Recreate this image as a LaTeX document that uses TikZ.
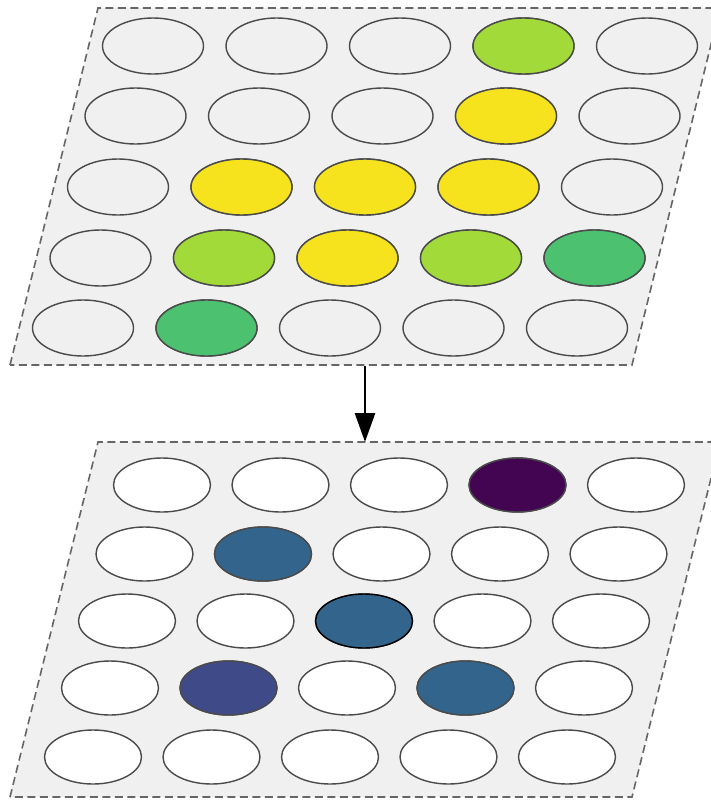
\documentclass[tikz,border=0pt]{standalone}
\usetikzlibrary{shapes.geometric,arrows.meta}
\definecolor{panelfill}{HTML}{F0F0F0}
\definecolor{panelline}{HTML}{666666}
\definecolor{cellline}{HTML}{4A4A4A}
\definecolor{cyel}{HTML}{F6E31E}
\definecolor{clgr}{HTML}{A2DA3A}
\definecolor{cgrn}{HTML}{4CC170}
\definecolor{cpur}{HTML}{430552}
\definecolor{cblu}{HTML}{33658C}
\definecolor{cind}{HTML}{3F4A88}
\tikzset{
  panel/.style={draw=panelline, fill=panelfill, dash pattern=on 8pt off 4.5pt, line width=1.6pt},
  topcell/.style={ellipse, draw=cellline, line width=1.4pt, fill=panelfill, minimum width=101pt, minimum height=56pt, inner sep=0pt},
  botcell/.style={ellipse, draw=cellline, line width=1.4pt, fill=white, minimum width=97pt, minimum height=54pt, inner sep=0pt},
  flow/.style={line width=2.8pt, -{Triangle[length=29pt,width=20pt]}}
}
\begin{document}
\begin{tikzpicture}[x=1pt,y=-1pt]
\useasboundingbox (0,0) rectangle (711,801);
\begin{scope}
\clip (0,0) rectangle (711,801);
% top panel
\coordinate (t1) at (98,8);
\coordinate (t2) at (720,8);
\coordinate (t3) at (632,365);
\coordinate (t4) at (10,365);
\draw[panel] (t4) -- (t1) -- (t2) -- (t3) -- cycle;
% bottom panel
\coordinate (b1) at (98,442);
\coordinate (b2) at (720,442);
\coordinate (b3) at (632,797);
\coordinate (b4) at (10,797);
\draw[panel] (b4) -- (b1) -- (b2) -- (b3) -- cycle;
\end{scope}
% top grid
\foreach \r/\cy/\cx in {1/46/153,2/116/135.5,3/187/118,4/258/100.5,5/328/83}{
  \foreach \c in {1,...,5}{
    \node[topcell] (T\r\c) at ({\cx+(\c-1)*123.5},\cy) {};
  }
}
\node[topcell, fill=clgr] at (T14) {};
\node[topcell, fill=cyel] at (T24) {};
\node[topcell, fill=cyel] at (T32) {};
\node[topcell, fill=cyel] at (T33) {};
\node[topcell, fill=cyel] at (T34) {};
\node[topcell, fill=clgr] at (T42) {};
\node[topcell, fill=cyel] at (T43) {};
\node[topcell, fill=clgr] at (T44) {};
\node[topcell, fill=cgrn] at (T45) {};
\node[topcell, fill=cgrn] at (T52) {};
% bottom grid
\foreach \r/\cy/\cx in {1/485/162,2/554/144.5,3/621/127,4/688/110,5/757/93}{
  \foreach \c in {1,...,5}{
    \node[botcell] (B\r\c) at ({\cx+(\c-1)*118.5},\cy) {};
  }
}
\node[botcell, fill=cpur] at (B14) {};
\node[botcell, fill=cblu] at (B22) {};
\node[botcell, fill=cblu, draw=black] at (B33) {};
\node[botcell, fill=cind] at (B42) {};
\node[botcell, fill=cblu] at (B44) {};
% arrow
\coordinate (a1) at (365,366);
\coordinate (a2) at (365,442);
\draw[flow] (a1) -- (a2);
\end{tikzpicture}
\end{document}
